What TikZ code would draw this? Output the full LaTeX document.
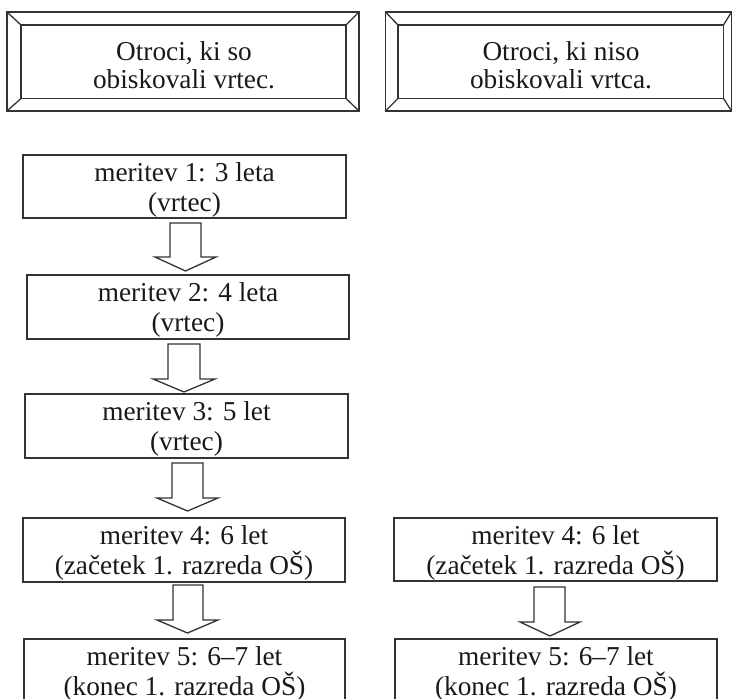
\documentclass[tikz,border=0pt]{standalone}
\usepackage{fontspec}
\setmainfont{Liberation Serif}
\newcommand{\bevel}[9]{%
  \draw[ln] (#2,#3) rectangle (#4,#5);
  \draw[ln] (#6,#7) rectangle (#8,#9);
  \draw[ln] (#2,#3) -- (#6,#7) (#4,#3) -- (#8,#7) (#2,#5) -- (#6,#9) (#4,#5) -- (#8,#9);
  \coordinate (#1) at ({(#6+#8)/2},{(#7+#9)/2});
}
\newcommand{\stepnode}[7]{%
  \draw[stepbox] (#2,#3) rectangle (#4,#5);
  \coordinate (#1) at ({(#2+#4)/2},{(#3+#5)/2});
  \node[txt] (#1a) at ({(#2+#4)/2},{#3+26.5}) {#6};
  \node[txt] (#1b) at ({(#2+#4)/2},{#3+56.5}) {#7};
}
\newcommand{\barrow}[7]{%
  \draw[blockarrow] (#1,#3) -- (#2,#3) -- (#2,#4) -- (#6,#4) -- ({(#5+#6)/2},#7) -- (#5,#4) -- (#1,#4) -- cycle;
}
\begin{document}
\begin{tikzpicture}[x=1pt,y=-1pt,
  ln/.style={line width=1.3pt,draw=black!80,line join=miter},
  txt/.style={inner sep=0pt,anchor=base,font=\fontsize{27.3}{30}\selectfont,text=black!90},
  stepbox/.style={ln,fill=white},
  blockarrow/.style={ln,fill=white}]
\useasboundingbox (0,0) rectangle (732,699);

% ---------- bevel frames ----------
\bevel{fl}{7}{12}{359}{111}{21}{25}{346}{98.5}
\bevel{fr}{385.5}{12}{731.5}{111}{398}{25}{723.5}{98.5}
\node[txt] (fl1) at (184,60) {Otroci, ki so};
\node[txt] (fl2) at (184,88) {obiskovali vrtec.};
\node[txt] (fr1) at (561,60) {Otroci, ki niso};
\node[txt] (fr2) at (561,88) {obiskovali vrtca.};

% ---------- boxes ----------
\stepnode{b1}{23}{155}{346}{218}{meritev 1: 3 leta}{(vrtec)}
\stepnode{b2}{27}{275}{349}{339}{meritev 2: 4 leta}{(vrtec)}
\stepnode{b3}{25}{394}{348}{458}{meritev 3: 5 let}{(vrtec)}
\stepnode{b4}{23}{518}{345}{582}{meritev 4: 6 let}{(začetek 1. razreda OŠ)}
\stepnode{b5}{24}{639}{345}{730}{meritev 5: 6–7 let}{(konec 1. razreda OŠ)}
\stepnode{r4}{394}{518}{717}{581}{meritev 4: 6 let}{(začetek 1. razreda OŠ)}
\stepnode{r5}{395}{639}{717}{730}{meritev 5: 6–7 let}{(konec 1. razreda OŠ)}

% ---------- block arrows ----------
\barrow{170}{201}{223}{257}{155}{216}{271}
\barrow{168}{200}{344}{379}{153}{215}{392}
\barrow{172}{203}{463}{498}{157}{218}{511}
\barrow{173}{203}{585}{620}{157}{218}{633}
\barrow{534}{565}{587}{622}{520}{580}{636}
\end{tikzpicture}
\end{document}
